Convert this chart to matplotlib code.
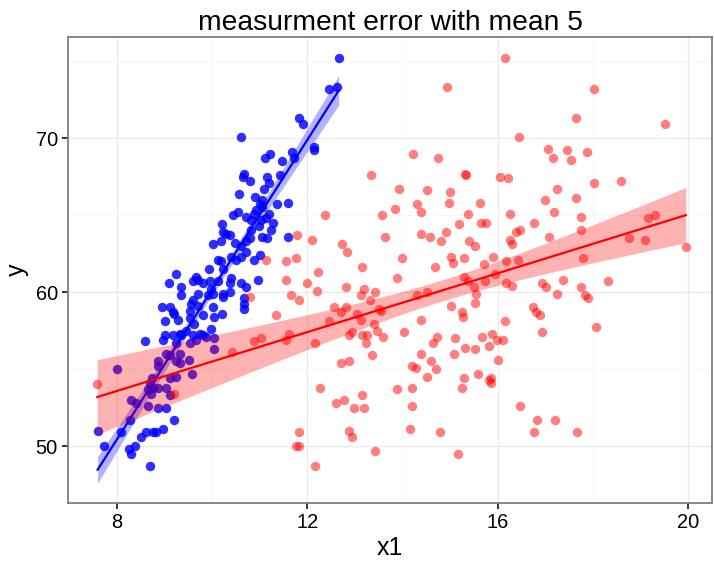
import numpy as np
import matplotlib
matplotlib.use('Agg')
import matplotlib.pyplot as plt
from matplotlib.ticker import MultipleLocator

plt.rcParams['font.family'] = ['Liberation Sans', 'DejaVu Sans']

# true x (blue)
blue_x = [10.60, 11.82, 11.92, 11.11, 11.21, 11.48, 11.69, 11.73, 10.68, 10.65,
          10.79, 11.16, 11.43, 11.20, 12.66, 12.45, 12.62, 12.15, 12.15, 11.10,
          10.56, 10.90, 11.06, 11.36, 11.60, 11.00, 11.06, 10.44, 10.54, 10.93,
          10.89, 10.82, 10.72, 11.20, 11.13, 11.29, 10.21, 10.98, 11.03, 10.23,
          10.30, 10.37, 11.25, 11.06, 11.15, 11.60, 10.82, 10.79, 10.72, 10.61,
          10.03, 10.19, 10.49, 10.39, 10.51, 10.61, 10.72, 11.00, 10.89, 10.12,
          10.19, 10.23, 9.93, 9.25, 9.67, 9.60, 9.70, 9.10, 9.35, 9.81,
          9.95, 9.98, 10.12, 10.40, 10.37, 10.61, 10.72, 10.96, 9.35, 9.70,
          9.91, 10.02, 10.23, 10.23, 10.38, 9.60, 9.56, 9.70, 10.68, 10.68,
          10.68, 8.96, 9.11, 9.18, 9.21, 9.53, 9.82, 10.03, 10.21, 10.05,
          9.28, 9.01, 9.53, 9.63, 9.98, 9.74, 9.46, 9.35, 9.18, 9.01,
          8.97, 8.59, 9.32, 9.60, 9.81, 10.05, 9.25, 9.53, 9.67, 9.88,
          10.05, 9.04, 9.11, 9.32, 9.33, 9.25, 9.52, 8.86, 8.86, 8.01,
          9.58, 9.11, 9.25, 8.75, 8.69, 8.76, 8.65, 8.86, 9.04, 9.11,
          8.72, 8.31, 8.41, 8.65, 8.86, 9.04, 9.21, 8.27, 7.60, 8.10,
          8.50, 8.62, 8.76, 8.83, 8.97, 7.73, 8.38, 8.26, 8.29, 8.69]
blue_y = [70.1, 71.3, 70.9, 68.7, 69.0, 68.5, 69.1, 68.7, 67.7, 67.5,
          67.2, 67.5, 67.6, 67.1, 75.2, 73.2, 73.3, 69.4, 69.2, 66.7,
          66.4, 66.2, 66.0, 65.7, 65.8, 65.7, 65.5, 65.0, 65.2, 65.3,
          65.1, 64.7, 64.9, 65.1, 64.8, 64.5, 64.4, 64.3, 64.7, 63.9,
          63.8, 63.7, 64.0, 63.6, 63.5, 63.6, 64.0, 63.5, 63.3, 63.0,
          63.1, 63.3, 63.2, 62.3, 62.1, 62.3, 62.6, 62.4, 62.1, 62.1,
          62.0, 61.5, 61.5, 61.2, 61.0, 60.7, 60.8, 60.6, 60.3, 60.6,
          60.7, 60.2, 60.7, 60.9, 60.6, 60.6, 60.3, 60.8, 59.8, 59.9,
          59.8, 59.9, 59.9, 59.7, 60.0, 59.5, 59.2, 59.1, 59.6, 59.2,
          58.9, 59.0, 59.0, 58.7, 58.6, 58.8, 58.5, 59.0, 58.6, 58.4,
          58.2, 58.1, 58.3, 57.9, 57.6, 57.3, 57.5, 57.2, 57.2, 57.2,
          56.9, 56.8, 57.3, 57.2, 57.2, 57.0, 56.7, 56.7, 56.9, 57.1,
          56.3, 56.0, 55.9, 56.0, 55.4, 55.5, 55.6, 55.5, 55.2, 55.0,
          54.7, 54.4, 54.5, 54.4, 54.1, 53.8, 53.7, 53.8, 53.8, 53.3,
          53.4, 53.0, 52.8, 52.6, 52.5, 52.5, 51.7, 51.7, 51.0, 50.9,
          50.6, 50.9, 50.9, 50.9, 51.1, 50.0, 50.0, 49.8, 49.5, 48.7]

# x measured with error (red)
red_x = [7.59, 9.20, 10.42, 10.89, 11.03, 11.55, 11.61, 11.83, 11.76, 11.82,
         11.78, 11.13, 11.56, 11.76, 11.55, 12.00, 10.79, 11.67, 11.82, 11.34,
         14.94, 14.23, 14.74, 15.31, 15.33, 13.35, 13.93, 14.51, 15.00,
         16.15, 18.02, 17.64, 19.52, 16.44, 17.05, 17.46, 17.17, 17.53, 17.88,
         16.05, 16.22, 18.02, 18.59, 17.24,
         14.31, 14.38, 14.97, 15.62, 13.84, 13.58, 12.37, 15.18, 15.38, 15.65,
         15.76, 14.39, 14.58, 14.92, 14.81, 13.63, 12.11, 12.73, 12.83, 13.98,
         13.16, 12.22, 14.69, 15.01, 15.06, 15.29, 15.39, 15.53, 15.71,
         12.20, 12.81, 13.88, 13.19, 13.42, 13.14, 13.32, 15.29, 15.38, 15.50,
         15.55, 15.53, 15.74, 14.30, 14.51, 12.57, 12.71, 12.82, 13.05, 13.51,
         13.54, 15.02, 15.24, 15.27, 14.38, 13.12, 12.46, 13.40, 13.46, 12.95,
         12.88, 13.16, 13.26, 14.03, 14.73, 15.11, 15.67, 13.59,
         12.17, 13.23, 13.37, 12.72, 12.88, 14.38, 14.65, 15.08, 15.32, 15.53,
         15.81, 14.21, 14.28, 14.59, 14.71, 14.52, 15.29, 15.26, 15.59, 15.81,
         12.27, 13.88, 14.21, 12.60, 12.77, 12.98, 13.16, 13.19, 14.20, 12.87,
         12.95, 14.15, 14.78, 13.42, 15.16, 12.16,
         17.00, 17.64, 17.18, 16.25, 17.75, 17.75, 16.76, 16.39, 16.46, 17.08,
         16.26, 16.29, 19.15, 19.30, 18.76, 19.09, 19.95, 15.90, 16.17, 16.42,
         17.79, 15.94, 16.18, 16.30, 17.38, 18.31, 16.93, 17.02, 17.24, 17.74,
         17.84, 17.89, 16.75, 16.81, 16.88, 16.16, 18.07, 16.93, 15.87, 15.99,
         16.11, 16.01, 15.85, 15.85, 16.47, 16.83, 17.20, 16.77, 17.67]
red_y = [54.0, 53.4, 56.1, 56.8, 57.0, 56.9, 57.3, 50.9, 50.0, 50.0,
         63.7, 62.1, 62.0, 62.2, 60.8, 60.6, 59.7, 59.8, 59.5, 58.5,
         73.3, 69.0, 68.7, 67.7, 67.6, 67.6, 66.7, 66.6, 66.5,
         75.2, 73.2, 71.3, 70.9, 70.1, 69.3, 69.2, 68.7, 68.6, 69.1,
         67.5, 67.4, 67.1, 67.2, 66.7,
         65.7, 65.2, 65.8, 65.8, 65.4, 65.0, 65.0, 64.4, 65.1, 64.5,
         64.5, 63.8, 63.6, 63.9, 63.3, 63.6, 63.4, 63.1, 62.6, 62.2,
         61.6, 61.3, 61.6, 62.3, 61.9, 62.2, 63.3, 63.0, 61.8,
         60.1, 60.3, 60.9, 60.2, 60.0, 59.8, 59.5, 61.0, 60.7, 60.3,
         59.9, 59.3, 60.7, 59.8, 60.0, 59.0, 58.7, 59.0, 58.6, 58.9,
         58.8, 59.1, 58.7, 58.4, 58.2, 58.2, 58.1, 57.9, 57.5, 57.4,
         57.2, 57.2, 57.2, 57.4, 57.1, 57.0, 57.1, 57.1,
         56.7, 56.7, 55.9, 55.4, 55.5, 56.0, 56.7, 56.0, 56.4, 56.3,
         56.5, 55.2, 55.1, 55.5, 55.0, 54.5, 54.4, 53.8, 54.7, 54.3,
         53.8, 53.7, 53.8, 52.8, 53.0, 52.5, 53.3, 52.5, 52.6, 51.0,
         50.6, 51.1, 50.9, 49.7, 49.5, 48.7,
         66.0, 66.1, 65.2, 65.1, 64.9, 64.0, 64.5, 63.9, 64.0, 63.6,
         63.4, 63.1, 64.8, 65.0, 63.5, 63.4, 62.9, 62.3, 62.0, 62.1,
         62.2, 61.2, 60.6, 60.4, 60.8, 60.7, 60.6, 60.3, 59.9, 60.3,
         59.8, 59.6, 59.0, 58.7, 58.5, 58.1, 57.7, 57.4, 57.3, 56.9,
         56.9, 55.6, 54.4, 54.1, 52.6, 51.7, 51.7, 50.9, 50.9]


def lm_band(x, y, t=1.97):
    x = np.asarray(x)
    y = np.asarray(y)
    b1, b0 = np.polyfit(x, y, 1)
    xs = np.linspace(x.min(), x.max(), 80)
    yhat = b0 + b1 * xs
    res = y - (b0 + b1 * x)
    s = np.sqrt(np.sum(res ** 2) / (len(x) - 2))
    se = s * np.sqrt(1.0 / len(x) + (xs - x.mean()) ** 2 / np.sum((x - x.mean()) ** 2))
    return xs, yhat, yhat - t * se, yhat + t * se


fig = plt.figure(figsize=(7.14, 5.63), dpi=100)
ax = fig.add_axes([68 / 714, 1 - 503 / 563, (712 - 68) / 714, (503 - 36.5) / 563])

ax.scatter(blue_x, blue_y, s=46, color='blue', alpha=0.82, linewidths=0, zorder=2)
ax.scatter(red_x, red_y, s=46, color='red', alpha=0.5, linewidths=0, zorder=3)

xs, yh, lo, hi = lm_band(blue_x, blue_y)
ax.fill_between(xs, lo, hi, color='blue', alpha=0.3, linewidth=0, zorder=4)
ax.plot(xs, yh, color='blue', lw=1.6, zorder=4.5)

xs, yh, lo, hi = lm_band(red_x, red_y)
ax.fill_between(xs, lo, hi, color='red', alpha=0.3, linewidth=0, zorder=5)
ax.plot(xs, yh, color='red', lw=1.6, zorder=5.5)

ax.set_xlim(6.977, 20.5)
ax.set_ylim(46.3, 76.6)
ax.xaxis.set_major_locator(MultipleLocator(4))
ax.xaxis.set_minor_locator(MultipleLocator(2))
ax.yaxis.set_major_locator(MultipleLocator(10))
ax.yaxis.set_minor_locator(MultipleLocator(5))
ax.grid(which='major', color='#ebebeb', lw=1.0, zorder=0)
ax.grid(which='minor', color='#f5f5f5', lw=0.6, zorder=0)
ax.set_axisbelow(True)

for sp in ax.spines.values():
    sp.set_color('#7f7f7f')
    sp.set_linewidth(1.3)

ax.tick_params(which='major', direction='out', length=4.3, width=1.1, color='black',
               labelsize=14.4, labelcolor='black', pad=3)
ax.tick_params(which='minor', length=0)

ax.set_title("measurment error with mean 5", fontsize=20.3, pad=5)
ax.set_xlabel("x1", fontsize=18, labelpad=3)
ax.set_ylabel("y", fontsize=18, labelpad=5)

plt.savefig("out.png", dpi=100)
plt.close()
